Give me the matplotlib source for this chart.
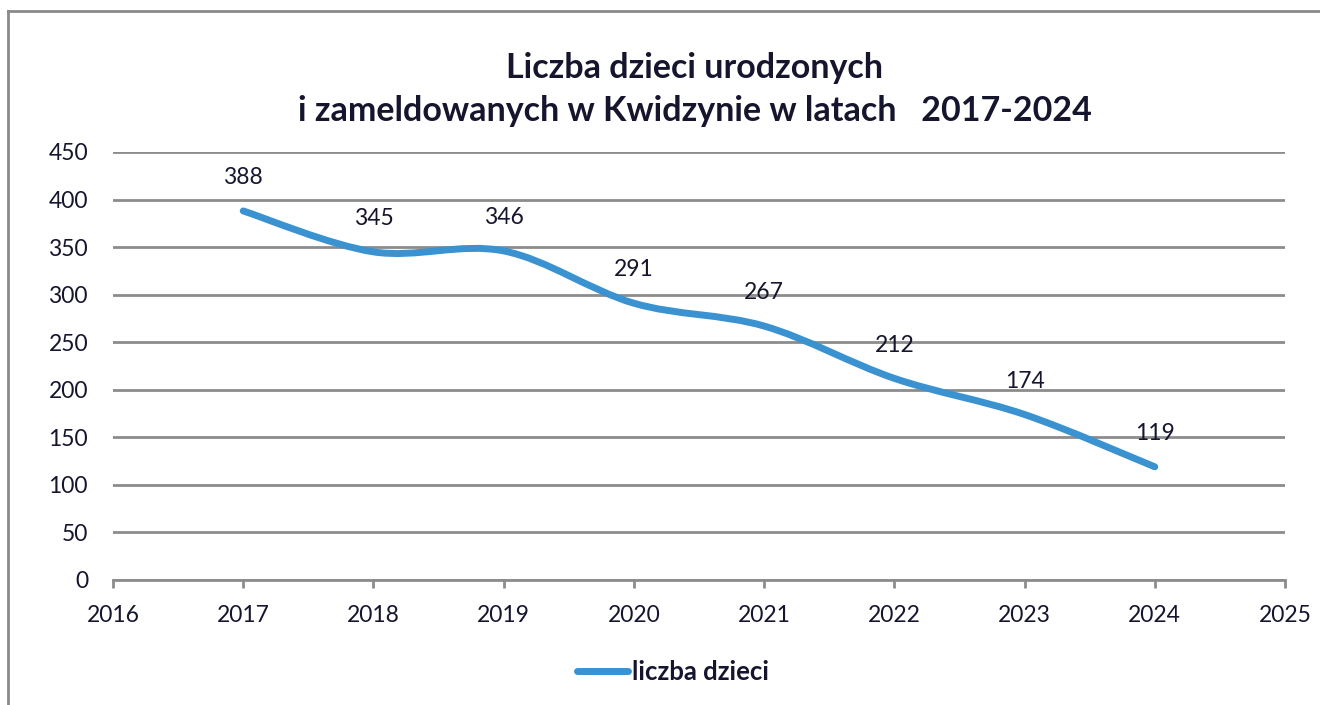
import numpy as np
import matplotlib.pyplot as plt
from matplotlib.path import Path
from matplotlib.patches import PathPatch
from matplotlib.lines import Line2D

plt.rcParams['font.family'] = ['Lato', 'DejaVu Sans']

years = [2017, 2018, 2019, 2020, 2021, 2022, 2023, 2024]
births = [388, 345, 346, 291, 267, 212, 174, 119]
series_name = 'liczba dzieci'
title = 'Liczba dzieci urodzonych\ni zameldowanych w Kwidzynie w latach   2017-2024'

text_col = '#16152e'
line_col = '#3a92d0'
grid_col = '#8c8c8c'


def smooth_path(xs, ys):
    # Excel-like smoothed line: Catmull-Rom segments as cubic Bezier curves
    pts = np.column_stack([xs, ys]).astype(float)
    n = len(pts)
    verts = [pts[0]]
    codes = [Path.MOVETO]
    for i in range(n - 1):
        p0 = pts[i - 1] if i > 0 else pts[i]
        p1 = pts[i]
        p2 = pts[i + 1]
        p3 = pts[i + 2] if i + 2 < n else pts[i + 1]
        c1 = p1 + (p2 - p0) / 6.0
        c2 = p2 - (p3 - p1) / 6.0
        verts += [c1, c2, p2]
        codes += [Path.CURVE4] * 3
    return Path(verts, codes)


fig = plt.figure(figsize=(13.2, 7.05), dpi=100)
ax = fig.add_axes([113 / 1320, 125 / 705, 1172 / 1320, 428 / 705])

ax.set_xlim(2016, 2025)
ax.set_ylim(0, 450)
ax.set_yticks(range(0, 451, 50))
ax.set_xticks(range(2016, 2026))
ax.grid(axis='y', color=grid_col, lw=2)
ax.set_axisbelow(True)
for s in ['top', 'right', 'left']:
    ax.spines[s].set_visible(False)
ax.spines['bottom'].set_color(grid_col)
ax.spines['bottom'].set_linewidth(2)
ax.tick_params(axis='x', direction='out', length=6, width=2, color=grid_col,
               labelsize=16.5, labelcolor=text_col, pad=12)
ax.tick_params(axis='y', length=0, labelsize=16.5, labelcolor=text_col, pad=18)

patch = PathPatch(smooth_path(years, births), fill=False, edgecolor=line_col,
                  lw=5, capstyle='round', joinstyle='round', zorder=3)
ax.add_patch(patch)

for x, y in zip(years, births):
    ax.annotate(str(y), (x, y), xytext=(0, 24), textcoords='offset points',
                ha='center', va='center', fontsize=16.5, color=text_col)

fig.text(0.5265, 0.873, title, ha='center', va='center', fontsize=24.5,
         fontweight='bold', color=text_col, linespacing=1.45)

handle = Line2D([], [], color=line_col, lw=5, solid_capstyle='round')
fig.legend([handle], [series_name], loc='center', bbox_to_anchor=(0.510, 0.047),
           frameon=False, handlelength=2.0, handletextpad=0.15,
           prop={'size': 18.5, 'weight': 'bold'}, labelcolor=text_col)

# chart border (left and top only visible)
fig.add_artist(Line2D([8 / 1320, 8 / 1320], [0, 694 / 705], color='#8a8a8a', lw=2))
fig.add_artist(Line2D([8 / 1320, 1], [694 / 705, 694 / 705], color='#8a8a8a', lw=2))

fig.savefig('out.png', dpi=100)
